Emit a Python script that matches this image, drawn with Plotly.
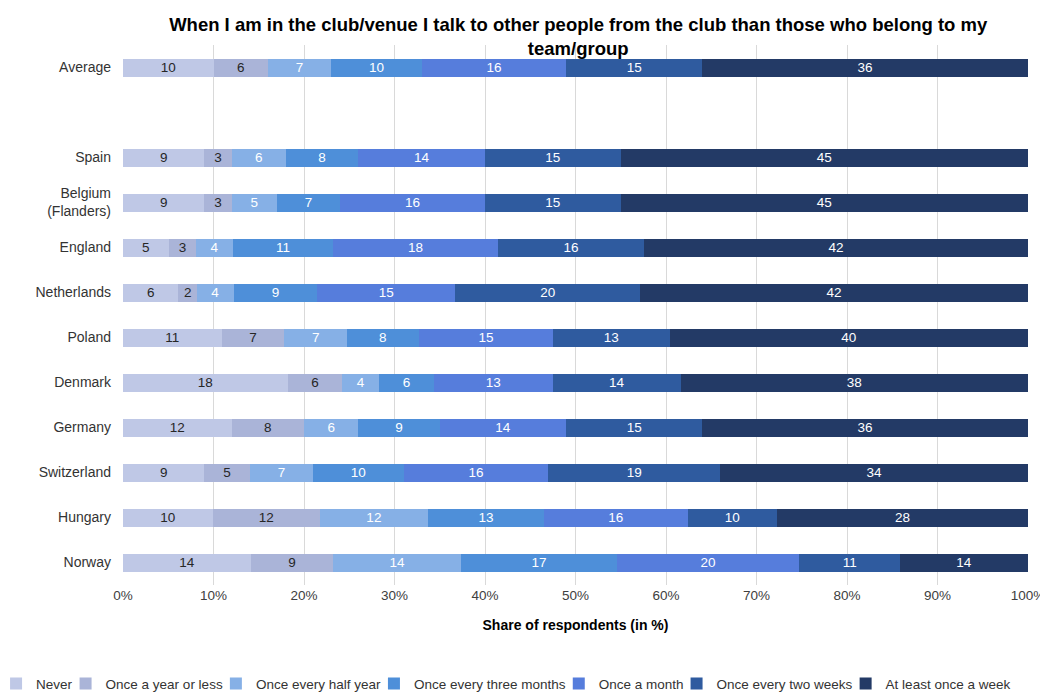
import plotly.graph_objects as go

# Row order top to bottom ("" = empty spacer row)
rows = ["Average", "", "Spain", "Belgium<br>(Flanders)", "England", "Netherlands",
        "Poland", "Denmark", "Germany", "Switzerland", "Hungary", "Norway"]

countries = ["Average", "Spain", "Belgium<br>(Flanders)", "England", "Netherlands",
             "Poland", "Denmark", "Germany", "Switzerland", "Hungary", "Norway"]

series_names = ["Never", "Once a year or less", "Once every half year",
                "Once every three months", "Once a month",
                "Once every two weeks", "At least once a week"]

never =            [10, 9, 9, 5, 6, 11, 18, 12, 9, 10, 14]
once_year =        [6, 3, 3, 3, 2, 7, 6, 8, 5, 12, 9]
half_year =        [7, 6, 5, 4, 4, 7, 4, 6, 7, 12, 14]
three_months =     [10, 8, 7, 11, 9, 8, 6, 9, 10, 13, 17]
once_month =       [16, 14, 16, 18, 15, 15, 13, 14, 16, 16, 20]
two_weeks =        [15, 15, 15, 16, 20, 13, 14, 15, 19, 10, 11]
once_week =        [36, 45, 45, 42, 42, 40, 38, 36, 34, 28, 14]

series_values = [never, once_year, half_year, three_months, once_month, two_weeks, once_week]

colors = ["#bfc8e6", "#aab4d8", "#86b0e6", "#4e8fd9", "#567ddc", "#2f5b9f", "#233a66"]
text_colors = ["#262626", "#262626", "white", "white", "white", "white", "white"]

ypos = [rows.index(c) for c in countries]

FONT = "Liberation Sans, Arial, sans-serif"

fig = go.Figure()
for name, vals, col, tcol in zip(series_names, series_values, colors, text_colors):
    fig.add_trace(go.Bar(
        name=name, x=vals, y=ypos, orientation="h",
        marker=dict(color=col, line=dict(width=0)),
        text=[str(v) for v in vals], texttemplate="%{text}",
        textposition="inside", insidetextanchor="middle", textangle=0,
        textfont=dict(color=tcol, size=13.5, family=FONT),
        constraintext="none",
        width=0.4,
    ))

fig.update_layout(
    barmode="stack", barnorm="percent",
    width=1040, height=685,
    paper_bgcolor="white", plot_bgcolor="white",
    margin=dict(l=115, r=20, t=37, b=108, autoexpand=False),
    font=dict(family=FONT, size=13, color="#404040"),
    title=dict(
        text="When I am in the club/venue I talk to other people from the club than those who belong to my<br>team/group",
        font=dict(size=18.5, color="black", family=FONT, weight="bold"),
        x=0.503, xanchor="center", xref="paper",
        y=1 - 23 / 685, yanchor="top", yref="container",
    ),
    xaxis=dict(
        range=[0, 100], tickvals=list(range(0, 101, 10)),
        ticktext=[f"{v}%" for v in range(0, 101, 10)],
        showgrid=True, gridcolor="#d9d9d9", gridwidth=1,
        zeroline=False, showline=False, ticks="", tickangle=0,
        tickfont=dict(size=13.5, color="#404040"),
        title=dict(text="<b>Share of respondents (in %)</b>",
                   font=dict(size=14, color="black"), standoff=18),
    ),
    yaxis=dict(
        range=[11.5, -0.5], tickvals=list(range(len(rows))), ticktext=rows,
        showgrid=False, zeroline=False, ticks="", showline=False,
        tickfont=dict(size=14, color="#333333"), ticklabelstandoff=11,
    ),
    legend=dict(
        orientation="h", x=-0.127, xref="paper", xanchor="left",
        y=-0.154, yanchor="top", traceorder="normal",
        font=dict(size=13.5, color="#333333"), indentation=-12,
        itemclick=False,
    ),
    uniformtext=dict(mode=False),
)

fig.write_html("out.html")
